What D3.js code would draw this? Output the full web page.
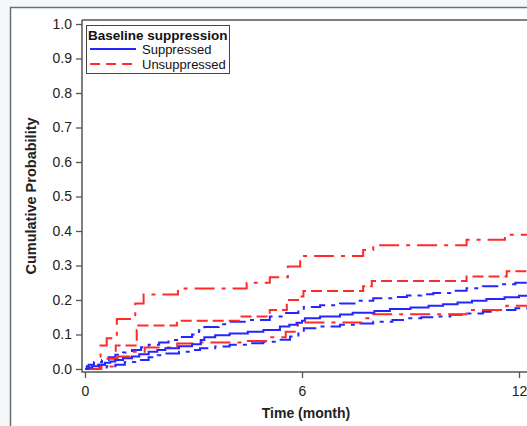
<!DOCTYPE html>
<html>
<head>
<meta charset="utf-8">
<script src="https://cdn.jsdelivr.net/npm/d3@7"></script>
<style>
  body { margin: 0; background: #f4f8fb; }
  svg { display: block; font-family: "Liberation Sans", Arial, sans-serif; }
</style>
</head>
<body>
<svg id="chart" width="527" height="426"></svg>
<script>
// cumulative incidence step curves, [month, probability]
var suppressedEst = [[0,0],[0.1,0.004],[0.2,0.008],[0.38,0.012],[0.55,0.018],[0.7,0.022],[0.84,0.026],[1.05,0.031],[1.3,0.036],[1.5,0.043],[1.76,0.05],[2.0,0.055],[2.22,0.06],[2.6,0.066],[2.96,0.072],[3.2,0.084],[3.3,0.092],[3.6,0.098],[4.0,0.103],[4.5,0.108],[4.93,0.113],[5.39,0.123],[5.65,0.128],[5.85,0.134],[6.0,0.14],[6.08,0.147],[6.5,0.152],[7.05,0.158],[7.4,0.163],[8.0,0.168],[8.43,0.174],[9.0,0.178],[9.5,0.183],[9.9,0.188],[10.3,0.193],[10.7,0.198],[11.1,0.203],[11.6,0.208],[12.0,0.212],[12.6,0.212]];
var suppressedUpper = [[0,0],[0.05,0.008],[0.1,0.012],[0.25,0.02],[0.47,0.026],[0.65,0.034],[0.84,0.041],[1.05,0.048],[1.3,0.055],[1.55,0.063],[1.76,0.07],[2.05,0.077],[2.31,0.084],[2.6,0.093],[2.96,0.1],[3.15,0.112],[3.3,0.122],[3.7,0.13],[4.0,0.137],[4.5,0.142],[5.11,0.152],[5.5,0.162],[5.9,0.17],[6.05,0.18],[6.5,0.185],[7.05,0.19],[7.5,0.198],[7.97,0.205],[8.5,0.209],[8.9,0.213],[9.3,0.217],[9.63,0.22],[10.1,0.227],[10.55,0.234],[11.0,0.24],[11.4,0.246],[11.9,0.25],[12.6,0.25]];
var suppressedLower = [[0,0],[0.4,0.004],[0.6,0.008],[0.84,0.012],[1.1,0.02],[1.39,0.026],[1.76,0.034],[2.0,0.04],[2.22,0.045],[2.6,0.05],[2.96,0.055],[3.18,0.06],[3.6,0.065],[4.0,0.07],[4.5,0.075],[4.93,0.079],[5.3,0.085],[5.67,0.094],[5.9,0.103],[6.05,0.118],[6.5,0.123],[7.05,0.128],[7.5,0.132],[7.97,0.137],[8.5,0.142],[8.9,0.147],[9.3,0.15],[9.63,0.152],[10.1,0.157],[10.55,0.161],[11.0,0.166],[11.4,0.171],[11.9,0.176],[12.6,0.176]];
var unsuppressedEst = [[0,0],[0.3,0.012],[0.55,0.03],[0.85,0.068],[1.43,0.113],[1.47,0.126],[2.54,0.14],[4.29,0.152],[5.11,0.171],[5.58,0.2],[5.89,0.21],[6.04,0.226],[7.69,0.24],[7.93,0.255],[10.55,0.268],[11.66,0.283],[12.6,0.283]];
var unsuppressedUpper = [[0,0],[0.43,0.068],[0.6,0.089],[0.88,0.145],[1.39,0.19],[1.62,0.216],[2.57,0.233],[4.47,0.25],[5.11,0.266],[5.61,0.297],[5.95,0.3275],[7.69,0.345],[7.97,0.359],[10.55,0.375],[11.61,0.389],[12.6,0.389]];
var unsuppressedLower = [[0,0],[0.45,0.007],[0.83,0.026],[0.9,0.036],[1.35,0.05],[1.65,0.062],[2.55,0.074],[3.2,0.077],[4.45,0.081],[5.1,0.092],[5.55,0.108],[5.85,0.118],[5.88,0.13],[6.0,0.135],[7.7,0.147],[7.95,0.159],[10.55,0.171],[11.65,0.183],[12.6,0.183]];

var yTicks = [0, 0.1, 0.2, 0.3, 0.4, 0.5, 0.6, 0.7, 0.8, 0.9, 1.0];
var xTicks = [0, 6, 12];
var legendLabels = ['Suppressed', 'Unsuppressed'];

var blue = '#2525ff', red = '#ff2a2a';

var svg = d3.select('#chart');

// outer panel
svg.append('rect')
  .attr('x', 10.5).attr('y', 7.5)
  .attr('width', 600).attr('height', 500)
  .attr('fill', '#fff')
  .attr('stroke', '#6e6e6e').attr('stroke-width', 1.5);

var x = d3.scaleLinear().domain([0, 12]).range([85, 519]);
var y = d3.scaleLinear().domain([0, 1]).range([369, 24]);

// clip the curves to the plot area
svg.append('clipPath').attr('id', 'plotclip')
  .append('rect').attr('x', 82).attr('y', 20).attr('width', 500).attr('height', 352);

var line = d3.line()
  .x(function(d) { return x(d[0]); })
  .y(function(d) { return y(d[1]); })
  .curve(d3.curveStepAfter);

var curves = [
  { data: suppressedUpper, color: blue, dash: '16,6,4,6' },
  { data: suppressedLower, color: blue, dash: '16,6,4,6' },
  { data: unsuppressedUpper, color: red, dash: '20,7,4,7' },
  { data: unsuppressedLower, color: red, dash: '20,7,4,7' },
  { data: unsuppressedEst, color: red, dash: '11,5' },
  { data: suppressedEst, color: blue, dash: null }
];

var plot = svg.append('g').attr('clip-path', 'url(#plotclip)');
curves.forEach(function(c) {
  plot.append('path')
    .attr('d', line(c.data))
    .attr('fill', 'none')
    .attr('stroke', c.color)
    .attr('stroke-width', 2)
    .attr('stroke-dasharray', c.dash);
});

// axes
var yAxis = svg.append('g')
  .attr('transform', 'translate(82,0)')
  .call(d3.axisLeft(y).tickValues(yTicks).tickFormat(d3.format('.1f')).tickSize(6).tickPadding(4));
var xAxis = svg.append('g')
  .attr('transform', 'translate(0,372)')
  .call(d3.axisBottom(x).tickValues(xTicks).tickSize(6).tickPadding(8));

[yAxis, xAxis].forEach(function(a) {
  a.select('.domain').remove();
  a.selectAll('line').attr('stroke', '#555').attr('stroke-width', 1.3);
  a.selectAll('text')
    .style('font-size', '14px')
    .style('font-family', '"Liberation Sans", Arial, sans-serif')
    .attr('fill', '#222');
});

// plot frame
svg.append('path')
  .attr('d', 'M82,20V372H600 M82,20H600')
  .attr('fill', 'none')
  .attr('stroke', '#555')
  .attr('stroke-width', 1.5);

// axis titles
svg.append('text')
  .attr('transform', 'translate(36,196) rotate(-90)')
  .attr('text-anchor', 'middle')
  .attr('font-size', 14.5).attr('font-weight', 'bold').attr('fill', '#222')
  .text('Cumulative Probability');
svg.append('text')
  .attr('x', 306).attr('y', 418)
  .attr('text-anchor', 'middle')
  .attr('font-size', 14).attr('font-weight', 'bold').attr('fill', '#222')
  .text('Time (month)');

// legend
var legend = svg.append('g');
legend.append('rect')
  .attr('x', 86.5).attr('y', 25.5).attr('width', 143).attr('height', 48)
  .attr('fill', '#fff').attr('stroke', '#444').attr('stroke-width', 1);
legend.append('text')
  .attr('x', 88).attr('y', 39.5)
  .attr('font-size', 13.5).attr('font-weight', 'bold').attr('fill', '#111')
  .text('Baseline suppression');
var legendColors = [blue, red];
var legendDash = [null, '10,6'];
legendLabels.forEach(function(lab, i) {
  var ly = 49 + i * 15;
  legend.append('line')
    .attr('x1', 90).attr('x2', 136).attr('y1', ly).attr('y2', ly)
    .attr('stroke', legendColors[i]).attr('stroke-width', 2)
    .attr('stroke-dasharray', legendDash[i]);
  legend.append('text')
    .attr('x', 142).attr('y', ly + 4.5)
    .attr('font-size', 13).attr('fill', '#111')
    .text(lab);
});
</script>
</body>
</html>
